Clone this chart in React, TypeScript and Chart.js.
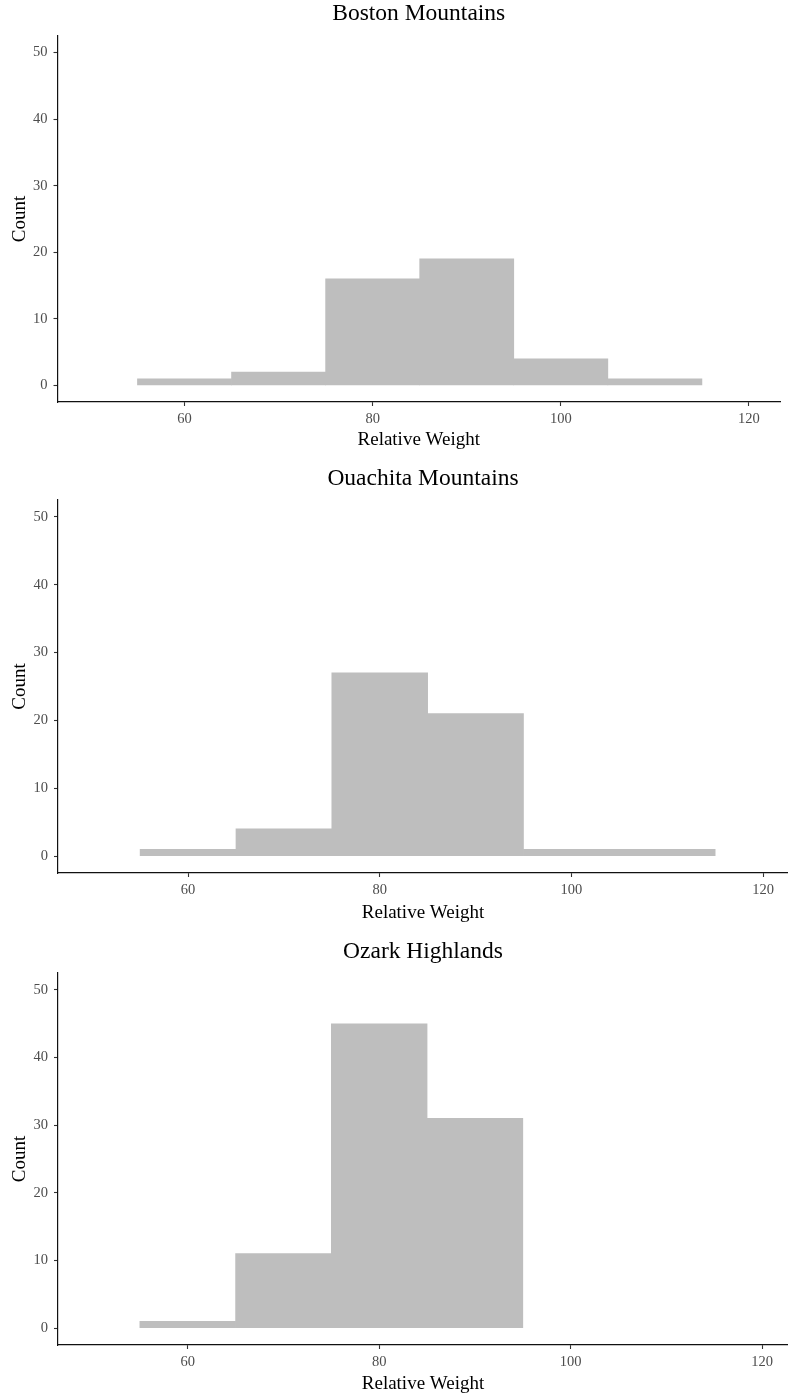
import React, { useEffect, useRef } from "react";
import { Chart, registerables } from "chart.js";

Chart.register(...registerables);

// ---- data ----
const binCenters = [60, 70, 80, 90, 100, 110];
const bostonCounts = [1, 2, 16, 19, 4, 1];
const ouachitaCounts = [1, 4, 27, 21, 1, 1];
const ozarkCounts = [1, 11, 45, 31];
const regionTitles = ["Boston Mountains", "Ouachita Mountains", "Ozark Highlands"];
const xTickValues = [60, 80, 100, 120];
const yTickValues = [0, 10, 20, 30, 40, 50];
const xAxisTitle = "Relative Weight";
const yAxisTitle = "Count";

// ---- layout / style ----
const SERIF = "'Liberation Serif', 'Times New Roman', serif";
const PAGE_W = 788;
const TITLE_SIZE = 23.5;
const AXIS_TITLE_SIZE = 19;
const TICK_SIZE = 14.5;
const LH = 1.2;

const panels = [
  { title: regionTitles[0], counts: bostonCounts, top: 0, height: 466, left: 57.5, right: 780, plotTop: 36, plotBottom: 402, titleY: 14, xTitleY: 440, xMin: 46.5, xMax: 123.3 },
  { title: regionTitles[1], counts: ouachitaCounts, top: 466, height: 467, left: 58, right: 788, plotTop: 34, plotBottom: 407, titleY: 13, xTitleY: 447, xMin: 46.43, xMax: 122.6 },
  { title: regionTitles[2], counts: ozarkCounts, top: 933, height: 466, left: 58, right: 788, plotTop: 40, plotBottom: 412, titleY: 19, xTitleY: 451, xMin: 46.45, xMax: 122.7 },
];

function makeConfig(p: any): any {
  const titleLH = TITLE_SIZE * LH;
  const axisLH = AXIS_TITLE_SIZE * LH;
  const titlePadTop = p.titleY - titleLH / 2;
  const titlePadBottom = p.plotTop - titlePadTop - titleLH;
  const xTitlePadBottom = p.height - p.xTitleY - axisLH / 2;
  const gridOpts = {
    display: true,
    drawOnChartArea: false,
    drawTicks: true,
    tickLength: 4,
    tickColor: "#333333",
    tickWidth: 1.1,
    offset: false,
  };
  const borderOpts = { display: true, color: "#111111", width: 1.2 };
  return {
    type: "bar",
    data: {
      datasets: [
        {
          data: p.counts.map((c: number, i: number) => ({ x: binCenters[i], y: c })),
          backgroundColor: "#BEBEBE",
          borderWidth: 0,
          barPercentage: 1,
          categoryPercentage: 1,
        },
      ],
    },
    options: {
      animation: false,
      responsive: false,
      devicePixelRatio: 1,
      events: [],
      layout: { padding: { left: 0, right: PAGE_W - p.right, top: 0, bottom: 0 } },
      plugins: {
        legend: { display: false },
        tooltip: { enabled: false },
        title: {
          display: true,
          text: p.title,
          fullSize: false,
          color: "#000000",
          font: { family: SERIF, size: TITLE_SIZE, weight: "normal", lineHeight: LH },
          padding: { top: titlePadTop, bottom: titlePadBottom },
        },
      },
      scales: {
        x: {
          type: "linear",
          min: p.xMin,
          max: p.xMax,
          offset: false,
          afterBuildTicks: (s: any) => {
            s.ticks = xTickValues.map((v) => ({ value: v }));
          },
          afterFit: (s: any) => {
            s.height = p.height - p.plotBottom;
          },
          grid: gridOpts,
          border: borderOpts,
          ticks: {
            color: "#4D4D4D",
            font: { family: SERIF, size: TICK_SIZE, lineHeight: LH },
            padding: 4,
            maxRotation: 0,
            autoSkip: false,
          },
          title: {
            display: true,
            text: xAxisTitle,
            color: "#000000",
            font: { family: SERIF, size: AXIS_TITLE_SIZE, lineHeight: LH },
            padding: { top: 0, bottom: xTitlePadBottom },
          },
        },
        y: {
          type: "linear",
          min: -2.5,
          max: 52.5,
          afterBuildTicks: (s: any) => {
            s.ticks = yTickValues.map((v) => ({ value: v }));
          },
          afterFit: (s: any) => {
            s.width = p.left;
          },
          grid: gridOpts,
          border: borderOpts,
          ticks: {
            color: "#4D4D4D",
            font: { family: SERIF, size: TICK_SIZE, lineHeight: LH },
            padding: 6,
            autoSkip: false,
          },
          title: {
            display: true,
            text: yAxisTitle,
            color: "#000000",
            font: { family: SERIF, size: AXIS_TITLE_SIZE, lineHeight: LH },
            padding: { top: 8.5, bottom: 0 },
          },
        },
      },
    },
  };
}

export default function App() {
  const refs = [useRef<HTMLCanvasElement>(null), useRef<HTMLCanvasElement>(null), useRef<HTMLCanvasElement>(null)];

  useEffect(() => {
    const charts: Chart[] = [];
    panels.forEach((p, i) => {
      const c = refs[i].current;
      if (c) charts.push(new Chart(c, makeConfig(p)));
    });
    return () => {
      charts.forEach((ch) => ch.destroy());
    };
  }, []);

  return (
    <div style={{ position: "absolute", left: 0, top: 0, width: PAGE_W, height: 1399, background: "#ffffff", overflow: "hidden" }}>
      {panels.map((p, i) => (
        <canvas
          key={i}
          ref={refs[i]}
          width={PAGE_W}
          height={p.height}
          style={{ position: "absolute", left: 0, top: p.top, width: PAGE_W, height: p.height, display: "block" }}
        />
      ))}
    </div>
  );
}
